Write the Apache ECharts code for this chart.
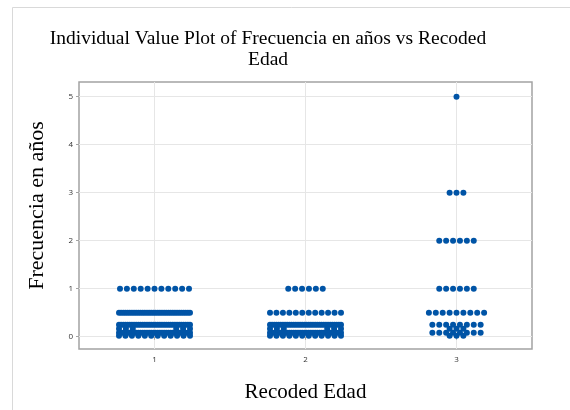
<!DOCTYPE html>
<html lang="es">
<head>
<meta charset="UTF-8">
<title>Individual Value Plot</title>
<script src="https://cdn.jsdelivr.net/npm/echarts@6/dist/echarts.min.js"></script>
<style>
    *{ margin: 0; }
    #main{ width: 570px; height: 410px; }
</style>
</head>
<body>
<div id="main"></div>
<script>
// values: how many points sit at each value, per group
var groups = [1, 2, 3];
var levels = [5, 3, 2, 1, 0.5, 0.25, 0.1667, 0.0833, 0.0192];
var countsG1 = [0, 0, 0, 11, 34, 34, 6, 34, 12];
var countsG2 = [0, 0, 0, 6, 12, 34, 6, 34, 12];
var countsG3 = [1, 3, 6, 6, 9, 8, 3, 8, 3];
var yTicks = [0, 1, 2, 3, 4, 5];

// plot box (px) and axis ranges
var GRID = {left: 79, right: 38, top: 82, bottom: 61};
var X_MIN = 0.5, X_MAX = 3.5, Y_MIN = -0.256, Y_MAX = 5.306;
var pxPerX = (570 - GRID.left - GRID.right) / (X_MAX - X_MIN);
var pxPerY = (410 - GRID.top - GRID.bottom) / (Y_MAX - Y_MIN);
var DOT = 6, STEP = 6.9, SPAN = 71;

function isDense(n){
    return n > 1 && (n - 1) * STEP > SPAN;
}

// horizontal offsets (px) of the points in one row
function rowOffsets(counts, k){
    var n = counts[k], out = [];
    if(!n) return out;
    var inside = k > 0 && k < counts.length - 1;
    var near = inside && (levels[k-1] - levels[k]) * pxPerY < DOT && (levels[k] - levels[k+1]) * pxPerY < DOT;
    if(near && isDense(counts[k-1]) && isDense(counts[k+1])){
        // squeezed between two solid bands: points end up at both ends
        for(var i = 0; i < n; i++){
            var side = i % 2 ? 1 : -1;
            out.push(side * (SPAN / 2 - Math.floor(i / 2) * STEP));
        }
        return out;
    }
    var s = n > 1 ? Math.min(STEP, SPAN / (n - 1)) : 0;
    for(var j = 0; j < n; j++) out.push((j - (n - 1) / 2) * s);
    return out;
}

var points = [];
[countsG1, countsG2, countsG3].forEach(function(counts, g){
    for(var k = 0; k < levels.length; k++){
        rowOffsets(counts, k).forEach(function(off){
            points.push([groups[g] + off / pxPerX, levels[k]]);
        });
    }
});

var tickFont = {fontFamily: 'Open Sans', fontSize: 8, color: '#333'};

var myChart = echarts.init(document.getElementById('main'));
myChart.setOption({
    animation: false,
    backgroundColor: '#fff',
    title: {
        text: 'Individual Value Plot of Frecuencia en años vs Recoded\nEdad',
        left: 263, top: 23, textAlign: 'center',
        textStyle: {fontFamily: 'Liberation Serif', fontSize: 19.5, lineHeight: 21, fontWeight: 'normal', color: '#000'}
    },
    graphic: [{
        type: 'rect', silent: true, z: -1,
        shape: {x: 12.5, y: 7.5, width: 600, height: 450},
        style: {fill: 'none', stroke: '#d9d9d9', lineWidth: 1}
    }],
    grid: {
        left: GRID.left, right: GRID.right, top: GRID.top, bottom: GRID.bottom,
        show: true, borderColor: '#a3a3a3', borderWidth: 1.5
    },
    xAxis: {
        type: 'value', min: X_MIN, max: X_MAX,
        name: 'Recoded Edad', nameLocation: 'middle', nameGap: 33,
        nameTextStyle: {fontFamily: 'Liberation Serif', fontSize: 21, color: '#000'},
        axisLine: {show: false},
        axisTick: {show: true, customValues: groups, length: 3, lineStyle: {color: '#a3a3a3'}},
        axisLabel: Object.assign({customValues: groups, margin: 7}, tickFont),
        splitLine: {show: true, lineStyle: {color: '#e6e6e6'}}
    },
    yAxis: {
        type: 'value', min: Y_MIN, max: Y_MAX,
        name: 'Frecuencia en años', nameLocation: 'middle', nameGap: 31, nameRotate: 90,
        nameTextStyle: {fontFamily: 'Liberation Serif', fontSize: 22, color: '#000', padding: [0, 0, 0, 20]},
        axisLine: {show: false},
        axisTick: {show: true, customValues: yTicks, length: 3, lineStyle: {color: '#a3a3a3'}},
        axisLabel: Object.assign({customValues: yTicks, margin: 6}, tickFont),
        splitLine: {show: true, lineStyle: {color: '#e6e6e6'}}
    },
    series: [{
        type: 'scatter',
        symbolSize: DOT,
        itemStyle: {color: '#0054a6', opacity: 1},
        data: points
    }]
});
</script>
</body>
</html>
